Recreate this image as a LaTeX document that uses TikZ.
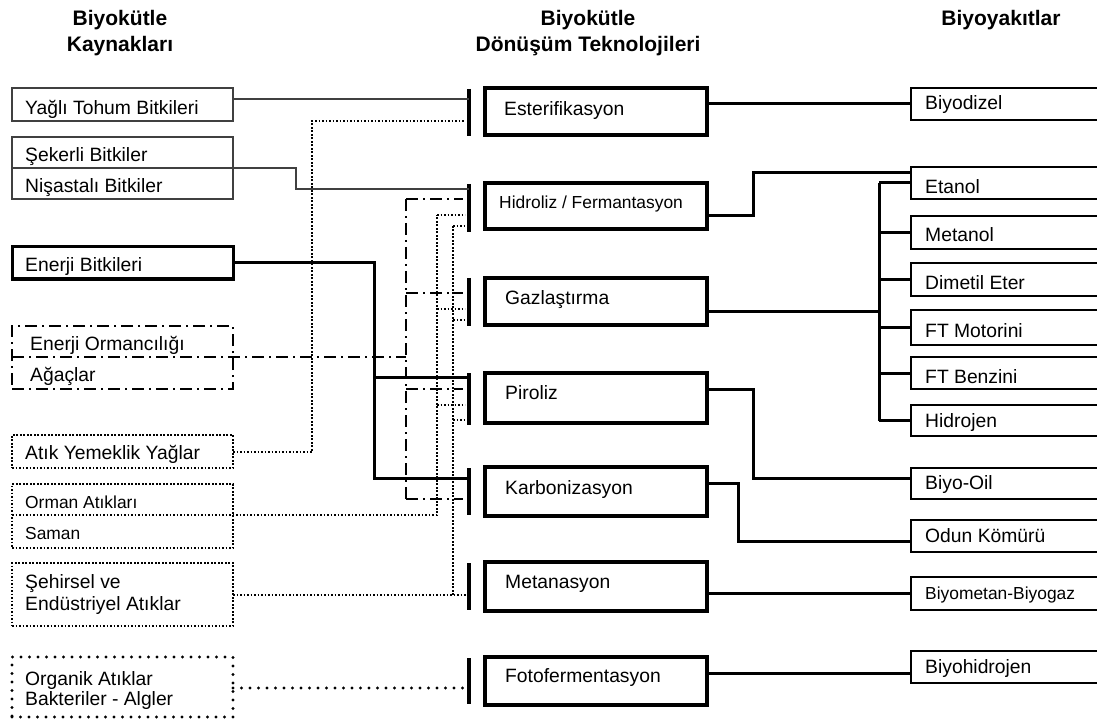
\documentclass[tikz,border=0pt]{standalone}
\usepackage{fontspec}
\setmainfont{Liberation Sans}
\begin{document}
\begin{tikzpicture}[x=1pt,y=-1pt,
  thinln/.style={line width=1.2pt, draw=black!75},
  thickln/.style={line width=3pt},
  busln/.style={line width=3.6pt},
  ddln/.style={line width=2pt, dash pattern=on 12pt off 5pt on 2pt off 5pt},
  dotln/.style={line width=2pt, dash pattern=on 1.7pt off 1.8pt},
  bigdotln/.style={line width=3.2pt, line cap=round, dash pattern=on 0pt off 8.5pt},
  box/.style={draw, rectangle, anchor=north west, inner sep=0pt, outer sep=0pt},
  lbox/.style={box, minimum width=221pt},
  mbox/.style={box, minimum width=222pt, line width=3.2pt},
  rbox/.style={box, minimum width=300pt, line width=2.2pt},
  lbl/.style={anchor=west, inner sep=0pt, text height=13.6pt, text depth=0pt, font=\fontsize{19.3}{22}\selectfont},
  slbl/.style={lbl, text height=12.4pt, font=\fontsize{17.4}{20}\selectfont},
  hdr/.style={anchor=center, inner sep=0pt, text height=15pt, text depth=0pt, font=\fontsize{21}{24}\selectfont\bfseries},
]
\clip (0,0) rectangle (1097,719);
\fill[white] (0,0) rectangle (1097,719);

% headers
\node[hdr] (h1a) at (120,18) {Biyokütle};
\node[hdr] (h1b) at (120,44) {Kaynakları};
\node[hdr] (h2a) at (588,18) {Biyokütle};
\node[hdr] (h2b) at (588,44) {Dönüşüm Teknolojileri};
\node[hdr] (h3a) at (1001,18) {Biyoyakıtlar};

% left boxes
\node[lbox, thinln, minimum height=33pt] (yag) at (12,88) {};
\node[lbox, thinln, minimum height=62pt] (sek) at (12,137) {};
\node[lbox, line width=3pt, minimum height=32pt] (enb) at (12,247) {};
\node[lbox, ddln, minimum height=63pt] (orm) at (12,326) {};
\node[lbox, dotln, minimum height=33pt] (aty) at (12,435) {};
\node[lbox, dotln, minimum height=64pt] (orw) at (12,484) {};
\node[lbox, dotln, minimum height=63pt] (seh) at (12,563) {};
\node[lbox, bigdotln, minimum height=60pt] (org) at (12,657) {};

\node[lbl] (tyag) at (25,107.5) {Yağlı Tohum Bitkileri};
\node[lbl] (tsek) at (25,155) {Şekerli Bitkiler};
\node[lbl] (tnis) at (25,186) {Nişastalı Bitkiler};
\node[lbl] (tenb) at (25,264.5) {Enerji Bitkileri};
\node[lbl] (torm) at (30,344) {Enerji Ormancılığı};
\node[lbl] (taga) at (30,375) {Ağaçlar};
\node[lbl] (taty) at (25,453) {Atık Yemeklik Yağlar};
\node[slbl] (torw) at (25,502.5) {Orman Atıkları};
\node[slbl] (tsam) at (25,533) {Saman};
\node[lbl] (tseh1) at (25,582) {Şehirsel ve};
\node[lbl] (tseh2) at (25,604) {Endüstriyel Atıklar};
\node[lbl] (torg1) at (25,679) {Organik Atıklar};
\node[lbl] (torg2) at (25,699) {Bakteriler - Algler};

% middle boxes
\node[mbox, minimum height=47pt] (est) at (485,88) {};
\node[mbox, minimum height=46pt] (hid) at (485,183) {};
\node[mbox, minimum height=47pt] (gaz) at (485,278) {};
\node[mbox, minimum height=50pt] (pir) at (485,373) {};
\node[mbox, minimum height=49pt] (kar) at (485,467) {};
\node[mbox, minimum height=49pt] (met) at (485,562) {};
\node[mbox, minimum height=48pt] (fot) at (485,657) {};

\node[lbl] (test) at (504,108.5) {Esterifikasyon};
\node[slbl] (thid) at (499,202) {Hidroliz / Fermantasyon};
\node[lbl] (tgaz) at (505,297.5) {Gazlaştırma};
\node[lbl] (tpir) at (505,393) {Piroliz};
\node[lbl] (tkar) at (505,488) {Karbonizasyon};
\node[lbl] (tmet) at (505,582) {Metanasyon};
\node[lbl] (tfot) at (505,676) {Fotofermentasyon};

% buses
\coordinate (b1t) at (469,89);  \coordinate (b1b) at (469,136);
\coordinate (b2t) at (469,184); \coordinate (b2b) at (469,232);
\coordinate (b3t) at (469,278); \coordinate (b3b) at (469,326);
\coordinate (b4t) at (469,373); \coordinate (b4b) at (469,425);
\coordinate (b5t) at (469,468); \coordinate (b5b) at (469,515);
\coordinate (b6t) at (469,563); \coordinate (b6b) at (469,610);
\coordinate (b7t) at (469,658); \coordinate (b7b) at (469,704);
\foreach \i in {1,...,7} \draw[busln] (b\i t) -- (b\i b);

% right boxes
\node[rbox, minimum height=32pt] (bio) at (911,88) {};
\node[rbox, minimum height=32pt] (eta) at (911,167) {};
\node[rbox, minimum height=33pt] (mtn) at (911,216) {};
\node[rbox, minimum height=33pt] (dme) at (911,263) {};
\node[rbox, minimum height=35pt] (ftm) at (911,310) {};
\node[rbox, minimum height=32pt] (ftb) at (911,357) {};
\node[rbox, minimum height=31pt] (hyd) at (911,405) {};
\node[rbox, minimum height=31pt] (boil) at (911,468) {};
\node[rbox, minimum height=32pt] (odk) at (911,520) {};
\node[rbox, minimum height=33pt] (bmg) at (911,577) {};
\node[rbox, minimum height=32pt] (bhy) at (911,651) {};

\node[lbl] (tbio) at (925,103) {Biyodizel};
\node[lbl] (teta) at (925,186.5) {Etanol};
\node[lbl] (tmtn) at (925,235) {Metanol};
\node[lbl] (tdme) at (925,282.5) {Dimetil Eter};
\node[lbl] (tftm) at (925,330.5) {FT Motorini};
\node[lbl] (tftb) at (925,376.5) {FT Benzini};
\node[lbl] (thyd) at (925,420.5) {Hidrojen};
\node[lbl] (tboil) at (925,483) {Biyo-Oil};
\node[lbl] (todk) at (925,536) {Odun Kömürü};
\node[slbl] (tbmg) at (925,593) {Biyometan-Biyogaz};
\node[lbl] (tbhy) at (925,666.5) {Biyohidrojen};

% right connectors
\draw[thickln] (est.east |- bio.west) -- (bio.west);
\draw[thickln] ([yshift=-10pt]hid.east) -- ++(46,0) |- ([yshift=10pt]eta.west);
\coordinate (gbus) at (879,311);
\draw[thickln] ([yshift=-9.5pt]gaz.east) -- (gbus);
\draw[thickln] (gbus |- eta.west) -- (gbus |- hyd.west);
\foreach \n in {eta,mtn,dme,ftm,ftb,hyd} \draw[thickln] (gbus |- \n.west) -- (\n.west);
\draw[thickln] ([yshift=9pt]pir.east) -- ++(46,0) |- ([yshift=5pt]boil.west);
\draw[thickln] ([yshift=8.5pt]kar.east) -- ++(31,0) |- ([yshift=-5pt]odk.west);
\draw[thickln] (met.east |- bmg.west) -- (bmg.west);
\draw[thickln] ([yshift=8pt]fot.east) -- ([yshift=-6pt]bhy.west);

% left connectors
\draw[thinln] ([yshift=5.5pt]yag.east) -- (b1t |- 0,99);
\coordinate (sekL) at (12,168);
\draw[thinln] (sekL) -- (296,168) -- (296,189) -- (b2t |- 0,189);

\coordinate (enbJ) at (374,263);
\draw[thickln] (enb.east |- enbJ) -- (enbJ) -- (374,478) -- (b5t |- 0,478);
\draw[thickln] (374,377) -- (b4t |- 0,377);

% dash-dot (Enerji Ormanciligi)
\coordinate (ormL) at (12,357);
\coordinate (dd) at (406,357);
\draw[ddln] (ormL) -- (dd);
\draw[ddln] (406,199) -- (406,499);
\foreach \y in {199,293,389,499} \draw[ddln] (406,\y) -- (463,\y);

% dotted: Atik Yemeklik Yaglar -> Esterifikasyon
\draw[dotln] (aty.east |- 0,452) -- (312,452) -- (312,121) -- (465,121);

% dotted: Orman Atiklari / Saman
\coordinate (orwL) at (12,515);
\draw[dotln] (orwL) -- (437,515) -- (437,215);
\foreach \y in {215,309,405} \draw[dotln] (437,\y) -- (465,\y);

% dotted: Sehirsel
\draw[dotln] (seh.east |- 0,595) -- (b6t |- 0,595);
\draw[dotln] (453,595) -- (453,226);
\foreach \y in {226,320,420} \draw[dotln] (453,\y) -- (465,\y);

% big dotted: Organik
\draw[bigdotln] (org.east |- 0,688) -- (b7t |- 0,688);
\end{tikzpicture}
\end{document}
